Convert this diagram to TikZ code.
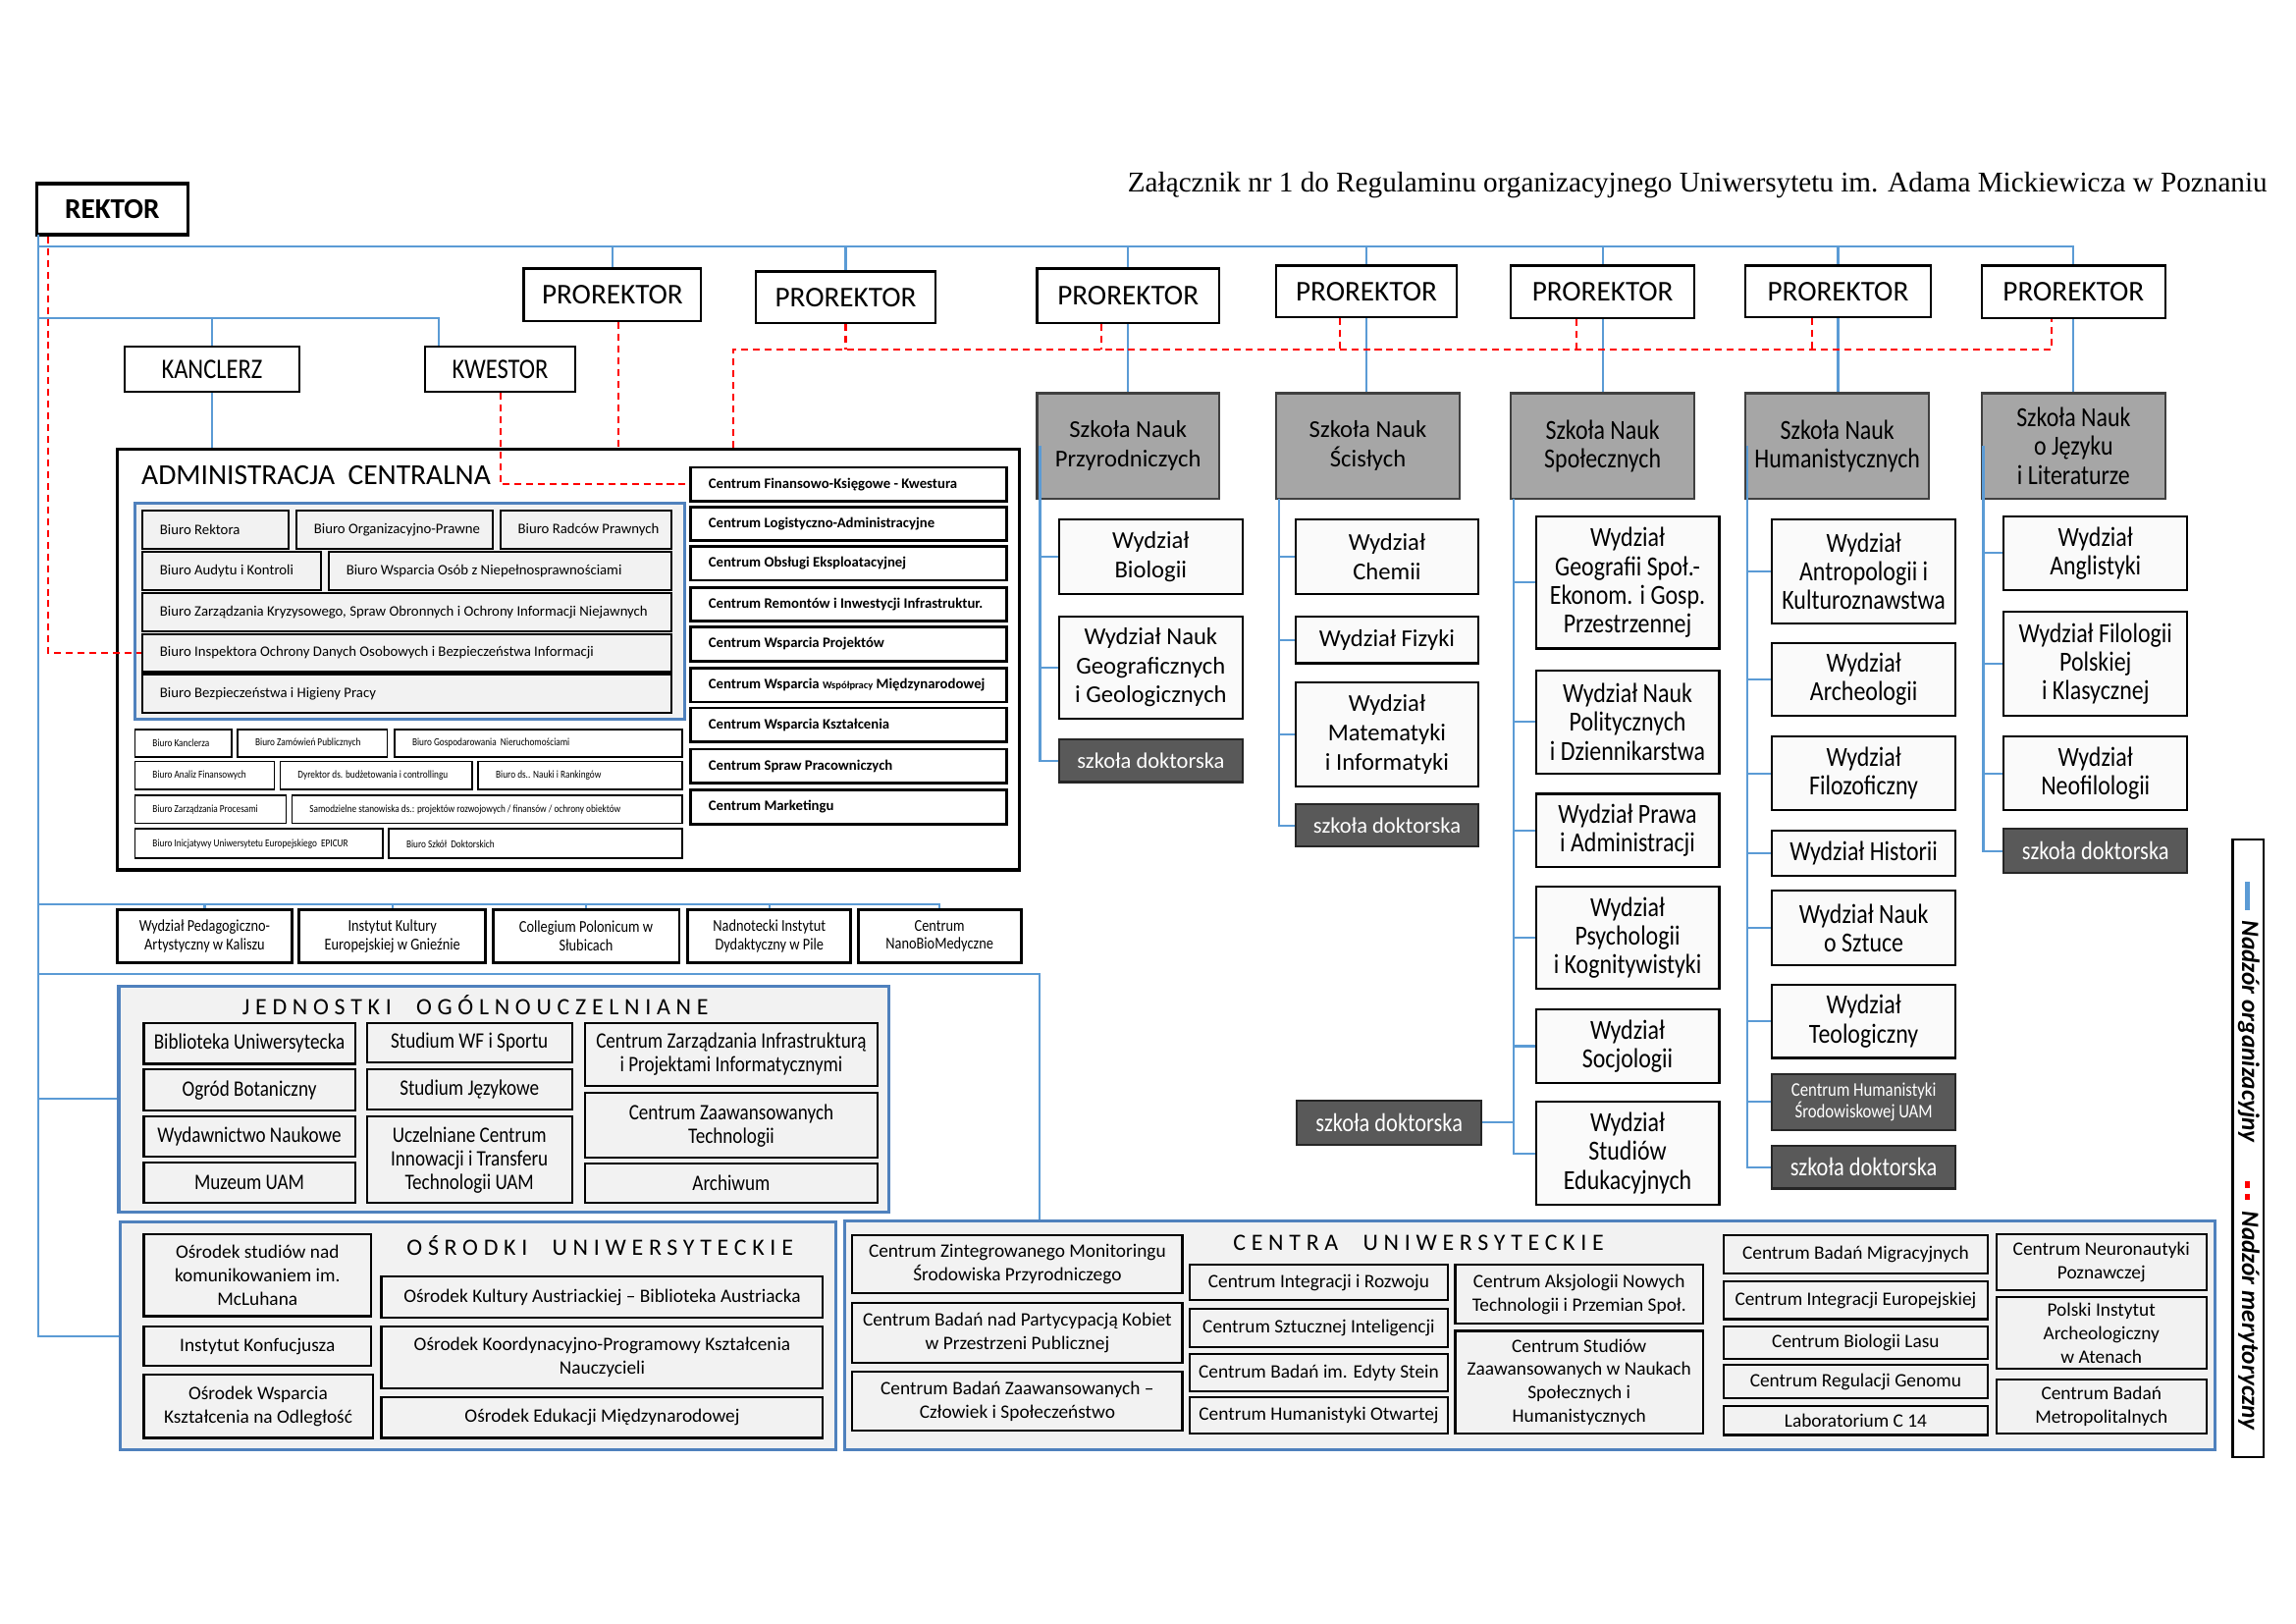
\documentclass[tikz,border=0pt]{standalone}
\usepackage{fontspec}
\setmainfont{Carlito}
\newfontfamily\calN[FakeStretch=0.85]{Carlito}
\newfontfamily\calS[LetterSpace=24]{Carlito}
\newfontfamily\timesf{Liberation Serif}
\usetikzlibrary{calc}
\definecolor{orgblue}{RGB}{91,155,213}
\definecolor{grpblue}{RGB}{79,129,189}
\definecolor{lgray}{RGB}{242,242,242}
\definecolor{szgray}{RGB}{166,166,166}
\definecolor{szline}{RGB}{64,64,64}
\definecolor{dkgray}{RGB}{89,89,89}
\definecolor{dkline}{RGB}{38,38,38}
\definecolor{wfill}{RGB}{250,250,250}
\newcommand\fsz[2]{\fontsize{#1}{#2}\selectfont}
\newcommand\un{0.014944}
% box from corner (x1,y1) to corner (x2,y2)
\newcommand\ubx[7]{%
  \pgfmathsetmacro\bw{(#5-#3)*\un}%
  \pgfmathsetmacro\bh{(#6-#4)*\un}%
  \pgfmathsetmacro\btw{(#5-#3)*\un-0.36}%
  \node[#1, minimum width=\bw cm, minimum height=\bh cm] (#2) at ({(#3+#5)/2},{(#4+#6)/2}) {#7};}
\newcommand\ubxl[7]{\ubx{#1}{#2}{#3}{#4}{#5}{#6}{\makebox[\btw cm][l]{#7}}}
\tikzstyle{ubox} = [draw=black, line width=0.6pt, fill=white, align=center, inner sep=1pt]
\tikzstyle{gbox} = [ubox, fill=lgray]
\tikzstyle{grp} = [draw=grpblue, line width=0.9pt, fill=lgray, inner sep=0pt]
\tikzstyle{org} = [draw=orgblue, line width=0.6pt]
\tikzstyle{mer} = [draw=red, line width=0.6pt, dash pattern=on 2pt off 1.4pt]

\begin{document}
\begin{tikzpicture}[x=\un cm, y=-\un cm]
  \path[use as bounding box, fill=white] (0,0) rectangle (1565.18,1106.13);
  \tikzstyle{prk} = [ubox, font=\fsz{8.3}{10}]
  \tikzstyle{arow} = [gbox, font=\fsz{4.2}{5}]
  \tikzstyle{brow} = [ubox, line width=0.5pt, font=\calN\fsz{3.1}{4}]
  \tikzstyle{crow} = [ubox, line width=0.8pt, font=\bfseries\fsz{4.2}{5}]
  \tikzstyle{urow} = [ubox, line width=0.8pt, font=\calN\fsz{4.8}{5.3}]
  \tikzstyle{szk} = [ubox, fill=szgray, draw=szline, font=\fsz{7}{8.5}]
  \tikzstyle{szkn} = [szk, font=\calN\fsz{8}{8.4}]
  \tikzstyle{wyd} = [ubox, fill=wfill, font=\fsz{7}{8.4}]
  \tikzstyle{wydn} = [ubox, fill=wfill, font=\calN\fsz{8}{8.3}]
  \tikzstyle{dok} = [ubox, fill=dkgray, draw=dkline, text=white, font=\fsz{6.4}{8}]
  \tikzstyle{dokn} = [dok, font=\calN\fsz{7.5}{8}]
  \tikzstyle{jrow} = [gbox, font=\calN\fsz{6.4}{6.8}]
  \tikzstyle{orow} = [gbox, font=\fsz{5.5}{6.8}]
  \tikzstyle{grpt} = [font=\calS\fsz{6.8}{8}, inner sep=0pt]

  % naglowek
  \node[anchor=east, inner sep=0pt, font=\timesf\fsz{8.3}{10}] (title) at (1546,126)
    {Załącznik nr 1 do Regulaminu organizacyjnego Uniwersytetu im. Adama Mickiewicza w Poznaniu};
  \ubx{ubox, line width=1pt, font=\bfseries\fsz{8.3}{10}}{rektor}{25}{125}{128}{160}{REKTOR}
  \ubx{ubox, font=\calN\fsz{8.2}{10}}{kancl}{85}{236}{204}{267}{KANCLERZ}
  \ubx{ubox, font=\calN\fsz{8.2}{10}}{kwestor}{290}{236}{392}{267}{KWESTOR}
  \ubx{prk}{pr1}{357}{183}{478}{219}{PROREKTOR}
  \ubx{prk}{pr2}{515}{185}{638}{220}{PROREKTOR}
  \ubx{prk}{pr3}{707}{183}{831}{220}{PROREKTOR}
  \ubx{prk}{pr4}{870}{181}{993}{216}{PROREKTOR}
  \ubx{prk}{pr5}{1030}{181}{1155}{217}{PROREKTOR}
  \ubx{prk}{pr6}{1190}{181}{1316}{216}{PROREKTOR}
  \ubx{prk}{pr7}{1351}{181}{1476}{217}{PROREKTOR}

  % administracja centralna
  \ubx{ubox, line width=1pt}{admin}{80}{306}{695}{593}{}
  \node[anchor=west, inner sep=0pt, font=\fsz{8.4}{10}] (adminT) at (96,324) {ADMINISTRACJA\ \ CENTRALNA};
  \ubx{grp}{adminB}{92}{343}{467}{490}{}
  \ubxl{arow}{bRekt}{97}{348}{197}{374}{Biuro Rektora}
  \ubxl{arow}{bOrg}{202}{348}{336}{374}{Biuro Organizacyjno-Prawne}
  \ubxl{arow}{bRadc}{341}{348}{458}{374}{Biuro Radców Prawnych}
  \ubxl{arow}{bAud}{97}{376}{219}{402}{Biuro Audytu i Kontroli}
  \ubxl{arow}{bNiep}{224}{376}{458}{402}{Biuro Wsparcia Osób z Niepełnosprawnościami}
  \ubxl{arow}{bKryz}{97}{404}{458}{430}{Biuro Zarządzania Kryzysowego, Spraw Obronnych i Ochrony Informacji Niejawnych}
  \ubxl{arow}{bInsp}{97}{432}{458}{458}{Biuro Inspektora Ochrony Danych Osobowych i Bezpieczeństwa Informacji}
  \ubxl{arow}{bBhp}{97}{460}{458}{486}{Biuro Bezpieczeństwa i Higieny Pracy}
  \ubxl{brow}{bKanc}{92}{497}{158}{516}{Biuro Kanclerza}
  \ubxl{brow}{bZam}{162}{497}{264}{516}{Biuro Zamówień Publicznych}
  \ubxl{brow}{bNier}{269}{497}{465}{516}{Biuro Gospodarowania\ \ Nieruchomościami}
  \ubxl{brow}{bAnal}{92}{519}{187}{538}{Biuro Analiz Finansowych}
  \ubxl{brow}{bBudz}{191}{519}{322}{538}{Dyrektor ds. budżetowania i controllingu}
  \ubxl{brow}{bRank}{326}{519}{465}{538}{Biuro ds.. Nauki i Rankingów}
  \ubxl{brow}{bProc}{92}{542}{195}{561}{Biuro Zarządzania Procesami}
  \ubxl{brow}{bSam}{199}{542}{465}{561}{Samodzielne stanowiska ds.: projektów rozwojowych / finansów / ochrony obiektów}
  \ubxl{brow}{bEpic}{92}{565}{261}{585}{Biuro Inicjatywy Uniwersytetu Europejskiego\ \ EPICUR}
  \ubxl{brow}{bSzkD}{265}{565}{465}{585}{Biuro Szkół\ \ Doktorskich}
  \ubxl{crow}{cFin}{471}{318.5}{686}{341.5}{Centrum Finansowo-Księgowe - Kwestura}
  \ubxl{crow}{cLog}{471}{345.5}{686}{368.5}{Centrum Logistyczno-Administracyjne}
  \ubxl{crow}{cObs}{471}{372.5}{686}{395.5}{Centrum Obsługi Eksploatacyjnej}
  \ubxl{crow}{cRem}{471}{400.5}{686}{423.5}{Centrum Remontów i Inwestycji Infrastruktur.}
  \ubxl{crow}{cProj}{471}{427.5}{686}{450.5}{Centrum Wsparcia Projektów}
  \ubxl{crow}{cMdz}{471}{455.5}{686}{478.5}{Centrum Wsparcia {\fsz{3}{4}Współpracy} Międzynarodowej}
  \ubxl{crow}{cKsz}{471}{482.5}{686}{505.5}{Centrum Wsparcia Kształcenia}
  \ubxl{crow}{cPrac}{471}{510.5}{686}{533.5}{Centrum Spraw Pracowniczych}
  \ubxl{crow}{cMark}{471}{538.5}{686}{561.5}{Centrum Marketingu}

  % jednostki zamiejscowe
  \ubx{urow}{u1}{80}{620}{199}{656}{Wydział Pedagogiczno-\\Artystyczny w Kaliszu}
  \ubx{urow}{u2}{204}{620}{331}{656}{Instytut Kultury\\Europejskiej w Gnieźnie}
  \ubx{urow}{u3}{336}{620}{463}{656}{Collegium Polonicum w\\Słubicach}
  \ubx{urow}{u4}{469}{620}{580}{656}{Nadnotecki Instytut\\Dydaktyczny w Pile}
  \ubx{urow}{u5}{585}{620}{696}{656}{Centrum\\NanoBioMedyczne}

  % szkoly i wydzialy
  \ubx{szk}{szkP}{707}{268}{831}{340}{Szkoła Nauk\\Przyrodniczych}
  \ubx{szk}{szkS}{870}{268}{995}{340}{Szkoła Nauk\\Ścisłych}
  \ubx{szkn}{szkSp}{1030}{268}{1155}{340}{Szkoła Nauk\\Społecznych}
  \ubx{szkn}{szkH}{1190}{268}{1315}{340}{Szkoła Nauk\\Humanistycznych}
  \ubx{szkn}{szkJ}{1351}{268}{1476}{340}{Szkoła Nauk\\o Języku\\i Literaturze}
  \ubx{wyd}{wBio}{722}{354}{847}{405}{Wydział\\Biologii}
  \ubx{wyd}{wGeo}{722}{420}{847}{490}{Wydział Nauk\\Geograficznych\\i Geologicznych}
  \ubx{dok}{sdP}{722}{504}{847}{533}{szkoła doktorska}
  \ubx{wyd}{wChem}{883}{354}{1008}{405}{Wydział\\Chemii}
  \ubx{wyd}{wFiz}{883}{420}{1008}{452}{Wydział Fizyki}
  \ubx{wyd}{wMat}{883}{465}{1008}{536}{Wydział\\Matematyki\\i Informatyki}
  \ubx{dok}{sdS}{883}{548}{1008}{577}{szkoła doktorska}
  \ubx{wydn}{wGeoS}{1047}{352}{1172}{442}{Wydział\\Geografii Społ.-\\Ekonom. i Gosp.\\Przestrzennej}
  \ubx{wydn}{wPol}{1047}{457}{1172}{527}{Wydział Nauk\\Politycznych\\i Dziennikarstwa}
  \ubx{wydn}{wPraw}{1047}{541}{1172}{591}{Wydział Prawa\\i Administracji}
  \ubx{wydn}{wPsy}{1047}{604}{1172}{674}{Wydział\\Psychologii\\i Kognitywistyki}
  \ubx{wydn}{wSoc}{1047}{688}{1172}{738}{Wydział\\Socjologii}
  \ubx{wydn}{wEdu}{1047}{751}{1172}{821}{Wydział\\Studiów\\Edukacyjnych}
  \ubx{dokn}{sdSp}{884}{750}{1010}{780}{szkoła doktorska}
  \ubx{wydn}{wAnt}{1208}{354}{1333}{425}{Wydział\\Antropologii i\\Kulturoznawstwa}
  \ubx{wydn}{wArch}{1208}{438}{1333}{488}{Wydział\\Archeologii}
  \ubx{wydn}{wFil}{1208}{502}{1333}{552}{Wydział\\Filozoficzny}
  \ubx{wydn}{wHist}{1208}{566}{1333}{597}{Wydział Historii}
  \ubx{wydn}{wSzt}{1208}{607}{1333}{658}{Wydział Nauk\\o Sztuce}
  \ubx{wydn}{wTeol}{1208}{671}{1333}{721}{Wydział\\Teologiczny}
  \ubx{dokn, font=\calN\fsz{5.6}{6.4}}{cHS}{1208}{732}{1333}{770}{Centrum Humanistyki\\Środowiskowej UAM}
  \ubx{dokn}{sdH}{1208}{781}{1333}{810}{szkoła doktorska}
  \ubx{wydn}{wAng}{1366}{352}{1491}{402}{Wydział\\Anglistyki}
  \ubx{wydn}{wPolK}{1366}{417}{1491}{488}{Wydział Filologii\\Polskiej\\i Klasycznej}
  \ubx{wydn}{wNeo}{1366}{502}{1491}{552}{Wydział\\Neofilologii}
  \ubx{dokn}{sdJ}{1366}{565}{1491}{595}{szkoła doktorska}

  % jednostki ogolnouczelniane
  \ubx{grp}{jedn}{81}{672}{606}{826}{}
  \node[grpt] (jednT) at (324,685) {JEDNOSTKI\hspace{4pt} OGÓLNOUCZELNIANE};
  \ubx{jrow}{jBib}{98}{697}{242}{725}{Biblioteka Uniwersytecka}
  \ubx{jrow}{jOgr}{98}{729}{242}{757}{Ogród Botaniczny}
  \ubx{jrow}{jWyd}{98}{761}{242}{788}{Wydawnictwo Naukowe}
  \ubx{jrow}{jMuz}{98}{792}{242}{820}{Muzeum UAM}
  \ubx{jrow}{jWF}{250}{697}{390}{724}{Studium WF i Sportu}
  \ubx{jrow}{jJez}{250}{729}{390}{756}{Studium Językowe}
  \ubx{jrow}{jUCI}{250}{761}{390}{820}{Uczelniane Centrum\\Innowacji i Transferu\\Technologii UAM}
  \ubx{jrow}{jCZI}{399}{697}{598}{740}{Centrum Zarządzania Infrastrukturą\\i Projektami Informatycznymi}
  \ubx{jrow}{jCZT}{399}{745}{598}{789}{Centrum Zaawansowanych\\Technologii}
  \ubx{jrow}{jArch}{399}{793}{598}{820}{Archiwum}

  % osrodki uniwersyteckie
  \ubx{grp}{osr}{82}{833}{570}{988}{}
  \node[grpt] (osrT) at (409,849) {OŚRODKI\hspace{4pt} UNIWERSYTECKIE};
  \ubx{orow}{oMcL}{98}{841}{253}{897}{Ośrodek studiów nad\\komunikowaniem im.\\McLuhana}
  \ubx{orow}{oKonf}{98}{904}{253}{931}{Instytut Konfucjusza}
  \ubx{orow}{oOdl}{98}{937}{254}{980}{Ośrodek Wsparcia\\Kształcenia na Odległość}
  \ubx{orow}{oAus}{260}{870}{561}{898}{Ośrodek Kultury Austriackiej – Biblioteka Austriacka}
  \ubx{orow}{oKPK}{260}{904}{561}{946}{Ośrodek Koordynacyjno-Programowy Kształcenia\\Nauczycieli}
  \ubx{orow}{oEdu}{260}{952}{561}{980}{Ośrodek Edukacji Międzynarodowej}

  % centra uniwersyteckie
  \ubx{grp}{centra}{576}{832}{1510}{988}{}
  \node[grpt] (centraT) at (967,847) {CENTRA\hspace{4pt} UNIWERSYTECKIE};
  \ubx{orow}{kZMS}{581}{842}{806}{881}{Centrum Zintegrowanego Monitoringu\\Środowiska Przyrodniczego}
  \ubx{orow}{kPK}{581}{888}{806}{929}{Centrum Badań nad Partycypacją Kobiet\\w Przestrzeni Publicznej}
  \ubx{orow}{kCS}{581}{935}{806}{975}{Centrum Badań Zaawansowanych –\\Człowiek i Społeczeństwo}
  \ubx{orow}{kIR}{811}{862}{987}{886}{Centrum Integracji i Rozwoju}
  \ubx{orow}{kSI}{811}{892}{987}{918}{Centrum Sztucznej Inteligencji}
  \ubx{orow}{kES}{811}{923}{987}{948}{Centrum Badań im. Edyty Stein}
  \ubx{orow}{kHO}{811}{952}{987}{977}{Centrum Humanistyki Otwartej}
  \ubx{orow}{kANT}{992}{862}{1161}{902}{Centrum Aksjologii Nowych\\Technologii i Przemian Społ.}
  \ubx{orow}{kSZ}{992}{907}{1161}{977}{Centrum Studiów\\Zaawansowanych w Naukach\\Społecznych i\\Humanistycznych}
  \ubx{orow}{kBM}{1175}{842}{1355}{868}{Centrum Badań Migracyjnych}
  \ubx{orow}{kIE}{1175}{873}{1355}{899}{Centrum Integracji Europejskiej}
  \ubx{orow}{kBL}{1175}{904}{1355}{926}{Centrum Biologii Lasu}
  \ubx{orow}{kRG}{1175}{930}{1355}{953}{Centrum Regulacji Genomu}
  \ubx{orow}{kC14}{1175}{958}{1355}{978}{Laboratorium C 14}
  \ubx{orow}{kNP}{1361}{841}{1504}{879}{Centrum Neuronautyki\\Poznawczej}
  \ubx{orow}{kPIA}{1361}{884}{1504}{933}{Polski Instytut\\Archeologiczny\\w Atenach}
  \ubx{orow}{kBMet}{1361}{940}{1504}{977}{Centrum Badań\\Metropolitalnych}

  % legenda
  \ubx{ubox}{legend}{1522}{572}{1543}{993}{}
  \draw[orgblue, line width=1.6pt] (1532,601) -- (1532,620);
  \node[rotate=-90, inner sep=0pt, font=\bfseries\itshape\fsz{7.2}{8}] (legO) at (1533,703) {Nadzór organizacyjny};
  \draw[red, line width=1.6pt] (1532,805) -- (1532,810) (1532,814) -- (1532,818);
  \node[rotate=-90, inner sep=0pt, font=\bfseries\itshape\fsz{7.2}{8}] (legM) at (1533,900) {Nadzór merytoryczny};

  % nadzor organizacyjny
  \coordinate (j0) at (26,160);
  \coordinate (j1) at (26,168);
  \coordinate (j2) at (26,217);
  \coordinate (j3) at (26,616);
  \coordinate (j4) at (26,664);
  \draw[org] (j0) |- (osr.west);
  \foreach \n in {pr1,pr2,pr3,pr4,pr5,pr6,pr7} \draw[org] (j1) -| (\n.north);
  \draw[org] (j2) -| (kancl.north);
  \path ($(kwestor.north west)+(10,0)$) coordinate (kwN);
  \draw[org] (j2) -| (kwN);
  \draw[org] (kancl.south) -- (kancl.south |- admin.north);
  \foreach \n in {u1,u2,u3,u4,u5} \draw[org] (j3) -| (\n.north);
  \path ($(centra.north west)+(134,0)$) coordinate (ctN);
  \draw[org] (j4) -| (ctN);
  \draw[org] (jedn.west -| j0) -- (jedn.west);
  \foreach \a/\b in {pr3/szkP,pr4/szkS,pr5/szkSp,pr6/szkH,pr7/szkJ}
    \draw[org] (\a.south) -- (\a.south |- \b.north);
  \coordinate (kP) at (709,304);
  \foreach \n in {wBio,wGeo,sdP} \draw[org] (kP) |- (\n.west);
  \coordinate (kS) at (872,340);
  \foreach \n in {wChem,wFiz,wMat,sdS} \draw[org] (kS) |- (\n.west);
  \coordinate (kSp) at (1032,340);
  \foreach \n in {wGeoS,wPol,wPraw,wPsy,wSoc,wEdu} \draw[org] (kSp) |- (\n.west);
  \draw[org] (kSp) |- (sdSp.east);
  \coordinate (kH) at (1191,304);
  \foreach \n in {wAnt,wArch,wFil,wHist,wSzt,wTeol,cHS,sdH} \draw[org] (kH) |- (\n.west);
  \coordinate (kJ) at (1352,304);
  \foreach \n in {wAng,wPolK,wNeo,sdJ} \draw[org] (kJ) |- (\n.west);

  % nadzor merytoryczny
  \path ($(rektor.south west)+(9,0)$) coordinate (rkM);
  \draw[mer] (rkM) |- (bInsp.west);
  \draw[mer] (kwestor.south) |- (cFin.west);
  \path ($(pr1.south)+(4,0)$) coordinate (p1M);
  \draw[mer] (p1M) -- (p1M |- admin.north);
  \coordinate (mL) at (500,238);
  \path ($(pr7.south)+(-15,0)$) coordinate (p7M);
  \draw[mer] (admin.north -| mL) -- (mL) -- (mL -| p7M) -- (p7M);
  \foreach \n/\d in {pr2/0,pr3/-18,pr4/-18,pr5/-18,pr6/-18} {
    \path ($(\n.south)+(\d,0)$) coordinate (tk);
    \draw[mer] (tk) -- (tk |- mL);
  }
\end{tikzpicture}
\end{document}
